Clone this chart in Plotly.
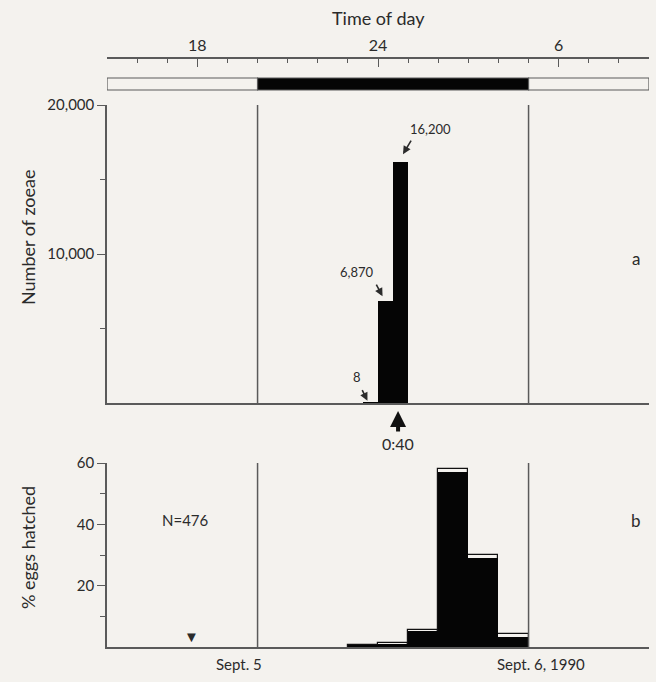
import plotly.graph_objects as go

# ---------------- data ----------------
# time axis in hours (15 = 15:00 on Sept 5, 33 = 09:00 on Sept 6)
hour_range = [15, 33]
major_hours = [18, 24, 30]
major_labels = ["18", "24", "6"]
dark_period = [20, 29]          # lights off 20:00 -> 05:00

# panel a: zoeae released per half hour
zoea_time = [23.75, 24.25, 24.75]
zoea_count = [8, 6870, 16200]
zoea_labels = ["8", "6,870", "16,200"]

# panel b: % eggs hatched per hour (filled part and outline)
hatch_time = [23.5, 24.5, 25.5, 26.5, 27.5, 28.5]
hatch_pct = [0.4, 1.0, 5.3, 57.0, 29.0, 3.3]
hatch_outline = [0.5, 1.2, 5.5, 58.0, 30.0, 4.2]

W, H = 656, 682
BG = "#f4f2ee"
INK = "#2b2b2b"
LINE = "#5a5a5a"
FONT = "Lato"

def py(px):  # pixel row -> paper y
    return 1 - px / H

fig = go.Figure()

fig.add_trace(go.Bar(x=zoea_time, y=zoea_count, width=0.5, marker=dict(color="#050505", line=dict(width=0)),
                     xaxis="x", yaxis="y", showlegend=False))
fig.add_trace(go.Bar(x=hatch_time, y=hatch_outline, width=1.0,
                     marker=dict(color=BG, line=dict(color="#111", width=1.2)),
                     xaxis="x2", yaxis="y2", showlegend=False))
fig.add_trace(go.Bar(x=hatch_time, y=hatch_pct, width=1.0,
                     marker=dict(color="#050505", line=dict(width=0)),
                     xaxis="x2", yaxis="y2", showlegend=False))
fig.add_trace(go.Scatter(x=hour_range, y=[0, 0], mode="markers", marker=dict(opacity=0),
                         xaxis="x3", yaxis="y", showlegend=False, hoverinfo="skip"))

ya = [py(403), py(105)]
yb = [py(647), py(463)]

fig.update_layout(
    width=W, height=H, paper_bgcolor=BG, plot_bgcolor=BG,
    margin=dict(l=107, r=7, t=0, b=0, autoexpand=False),
    barmode="overlay", bargap=0,
    font=dict(family=FONT, color=INK, size=15),
    xaxis=dict(domain=[0, 1], range=hour_range, anchor="y", showline=True, linecolor=LINE, linewidth=1.5,
               showgrid=False, zeroline=False, ticks="", showticklabels=False, automargin=False),
    yaxis=dict(domain=ya, range=[0, 20000], showline=True, linecolor=LINE, linewidth=1.5,
               showgrid=False, zeroline=False, ticks="outside", ticklen=8, tickcolor=LINE,
               tickvals=[10000, 20000], ticktext=["10,000", "20,000"], tickfont=dict(size=15),
               automargin=False,
               minor=dict(tickvals=[5000, 15000], ticks="outside", ticklen=5, tickcolor=LINE)),
    xaxis2=dict(domain=[0, 1], range=hour_range, anchor="y2", showline=True, linecolor=LINE, linewidth=1.5,
                showgrid=False, zeroline=False, ticks="", showticklabels=False, automargin=False),
    yaxis2=dict(domain=yb, range=[0, 60], showline=True, linecolor=LINE, linewidth=1.5,
                showgrid=False, zeroline=False, ticks="outside", ticklen=8, tickcolor=LINE,
                tickvals=[20, 40, 60], tickfont=dict(size=15), automargin=False,
                minor=dict(tickvals=[10, 30, 50], ticks="outside", ticklen=5, tickcolor=LINE)),
    xaxis3=dict(overlaying="x", anchor="free", position=py(58), side="top", range=hour_range,
                showline=True, linecolor=LINE, linewidth=1.5, showgrid=False, zeroline=False,
                ticks="inside", ticklen=8, tickcolor=LINE, tickwidth=1.2, automargin=False,
                tickvals=major_hours, ticktext=major_labels, tickfont=dict(size=16),
                minor=dict(dtick=1, tick0=15, ticks="inside", ticklen=4, tickcolor=LINE)),
)

shapes = []
bar_top, bar_bot = py(78), py(90)
segments = [(hour_range[0], dark_period[0], BG), (dark_period[0], dark_period[1], "#050505"),
            (dark_period[1], hour_range[1], BG)]
for x0, x1, c in segments:
    shapes.append(dict(type="rect", xref="x", yref="paper", x0=x0, x1=x1, y0=bar_bot, y1=bar_top,
                       fillcolor=c, line=dict(color=LINE, width=1.2), layer="above"))
for h in dark_period:
    shapes.append(dict(type="line", xref="x", yref="y", x0=h, x1=h, y0=0, y1=20000,
                       line=dict(color=LINE, width=1.5)))
    shapes.append(dict(type="line", xref="x2", yref="y2", x0=h, x1=h, y0=0, y1=60,
                       line=dict(color=LINE, width=1.5)))
fig.update_layout(shapes=shapes)

ann = []
def text(x, y, s, size=15, xref="paper", yref="paper", **kw):
    ann.append(dict(x=x, y=y, text=s, xref=xref, yref=yref, showarrow=False,
                    xanchor="center", yanchor="middle",
                    font=dict(size=size, color=INK, family=FONT), **kw))

def xp(px):  # pixel column -> paper x
    return (px - 107) / (W - 107 - 7)

text(24, py(18), "Time of day", size=18, xref="x")
text(xp(28), py(237), "Number of zoeae", size=18, textangle=-90)
text(xp(28), py(548), "% eggs hatched", size=18, textangle=-90)
text(xp(636), py(258), "a", size=17)
text(xp(636), py(520), "b", size=17)
text(xp(185), py(520), "N=476", size=15)
text(17.8, py(636), "▼", size=15, xref="x")
text(19.4, py(664), "Sept. 5", size=15, xref="x")
text(29.4, py(664), "Sept. 6, 1990", size=15, xref="x")

ann.append(dict(x=zoea_time[2] + 0.08, y=zoea_count[2] + 500, xref="x", yref="y", ax=9, ay=-15,
                text="", showarrow=True, arrowhead=2, arrowsize=1, arrowwidth=1.6, arrowcolor=INK))
text(zoea_time[2] + 1.0, zoea_count[2] + 2200, zoea_labels[2], size=13, xref="x", yref="y")
ann.append(dict(x=zoea_time[1] - 0.1, y=zoea_count[1] + 300, xref="x", yref="y", ax=-7, ay=-13,
                text="", showarrow=True, arrowhead=2, arrowsize=1, arrowwidth=1.6, arrowcolor=INK))
text(zoea_time[1] - 0.95, zoea_count[1] + 1950, zoea_labels[1], size=13, xref="x", yref="y")
ann.append(dict(x=zoea_time[0] - 0.1, y=zoea_count[0] + 150, xref="x", yref="y", ax=-6, ay=-12,
                text="", showarrow=True, arrowhead=2, arrowsize=1, arrowwidth=1.6, arrowcolor=INK))
text(zoea_time[0] - 0.45, zoea_count[0] + 1750, zoea_labels[0], size=13, xref="x", yref="y")
ann.append(dict(x=24 + 40 / 60, y=py(411), xref="x", yref="paper", ax=0, ay=22,
                text="", showarrow=True, arrowhead=2, arrowsize=0.8, arrowwidth=4, arrowcolor="#111"))
text(24 + 40 / 60, py(443), "0:40", size=16, xref="x")

fig.update_layout(annotations=ann)
fig.write_html("out.html")
